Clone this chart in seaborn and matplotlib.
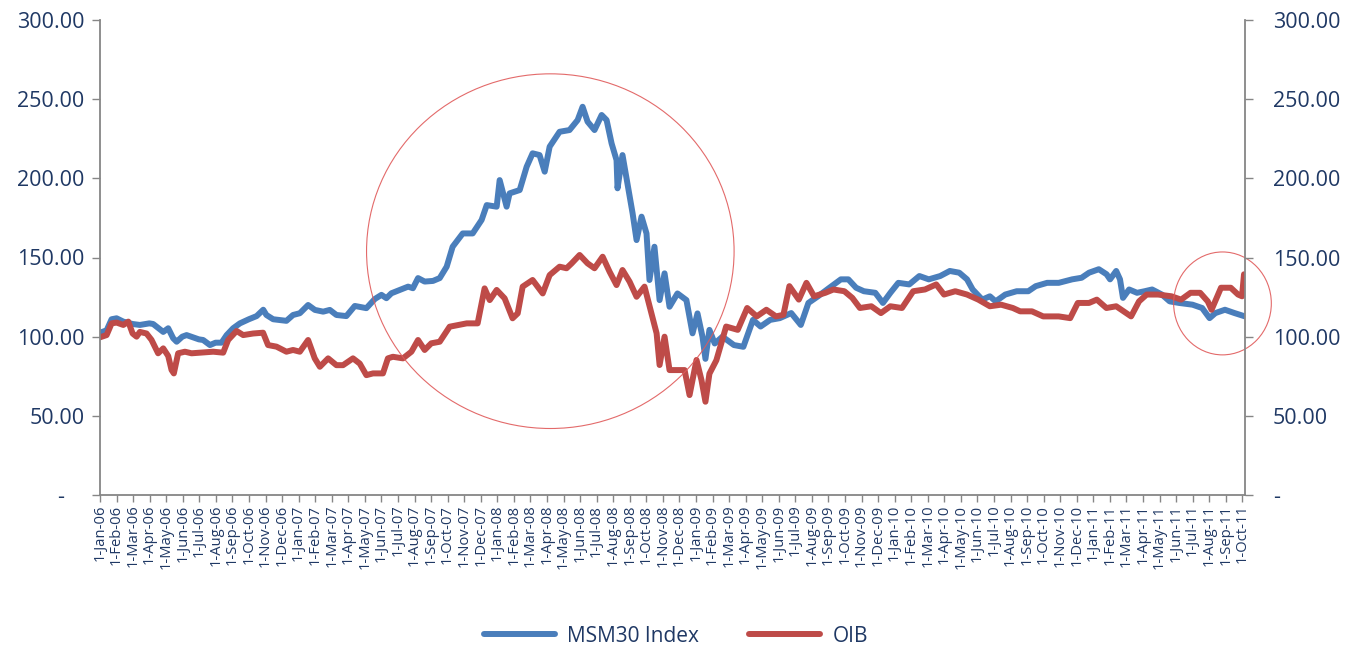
import numpy as np
import pandas as pd
import matplotlib
matplotlib.use("Agg")
import matplotlib.pyplot as plt
import matplotlib.transforms as mtransforms
from matplotlib.patches import Ellipse
from matplotlib.lines import Line2D
import seaborn as sns

# ---- data (x = months since 1-Jan-06) ----
msm30_month = [0.00, 0.40, 0.70, 1.00, 1.41, 1.97, 2.41, 2.98, 3.21, 3.82, 4.12, 4.42, 4.63, 4.97, 5.23,
               5.97, 6.23, 6.64, 6.98, 7.34, 7.65, 8.04, 8.45, 8.99, 9.46, 9.86, 10.05, 10.46, 11.26, 11.66,
               12.07, 12.57, 12.98, 13.48, 13.88, 14.28, 14.88, 15.39, 16.09, 16.60, 17.00, 17.30, 17.60,
               18.11, 18.61, 18.90, 19.21, 19.61, 20.11, 20.52, 20.94, 21.30, 21.91, 22.51, 23.05, 23.36,
               23.96, 24.14, 24.56, 24.74, 25.35, 25.77, 26.13, 26.55, 26.86, 27.16, 27.76, 28.36, 28.85,
               29.15, 29.45, 29.87, 30.30, 30.60, 30.90, 31.20, 31.26, 31.56, 31.86, 32.17, 32.41, 32.71,
               33.01, 33.19, 33.49, 33.80, 34.10, 34.40, 34.88, 35.42, 35.79, 36.09, 36.39, 36.57, 36.81,
               37.13, 37.60, 38.29, 38.86, 39.44, 39.90, 40.48, 41.06, 41.75, 42.33, 42.79, 43.37, 44.06,
               44.75, 45.20, 45.67, 46.14, 46.83, 47.29, 47.74, 48.22, 48.88, 49.49, 50.06, 50.75, 51.33,
               51.90, 52.37, 52.71, 53.29, 53.75, 54.10, 54.68, 55.37, 56.07, 56.52, 57.21, 57.91, 58.72,
               59.29, 59.74, 60.33, 60.80, 61.01, 61.38, 61.61, 61.79, 62.16, 62.64, 63.10, 63.55, 64.14,
               64.61, 65.18, 65.99, 66.57, 67.02, 67.37, 67.95, 68.53, 69.16]
msm30_value = [102.5, 104, 111, 111.6, 109.5, 108, 107.4, 108.4, 108, 103, 105.3, 99, 96.8, 100, 101,
               98.3, 97.9, 94.7, 96.2, 96.2, 101, 105.3, 108.4, 111, 113, 117, 113.7, 111, 110, 113.7,
               114.8, 120, 116.9, 115.8, 116.9, 113.7, 113, 119.4, 118, 123.8, 126.4, 124.3, 127.4,
               129.5, 131.6, 130.6, 137, 134.8, 135.2, 137, 144.2, 156.8, 165.2, 165.2, 173.7, 183.1,
               182.1, 198.9, 182.1, 190.5, 192.6, 207.3, 215.8, 214.7, 204.2, 220, 229.4, 230.5, 236.8,
               245.2, 235.8, 230.5, 240, 236.8, 222.1, 211.5, 193.7, 214.7, 196.8, 177.9, 161, 175.8,
               165.2, 135.8, 156.8, 123.1, 140, 118.9, 127.3, 123.1, 102.1, 114.7, 100, 86, 104.3,
               95.7, 100, 94.7, 93.6, 110.6, 106.4, 110.6, 111.7, 114.9, 107.4, 121.3, 125.5, 130.9,
               136.2, 136.2, 130.9, 128.7, 127.7, 121.3, 127.7, 134, 133, 138.3, 136.2, 138.3, 141.5,
               140.4, 136.2, 129.8, 123.4, 125.5, 122.3, 126.6, 128.7, 128.7, 131.9, 134, 134, 136.2,
               137.2, 140.4, 142.6, 139.4, 136.2, 141.5, 136.2, 124.5, 129.8, 127.7, 128.7, 129.8, 126.6,
               122.3, 121.3, 120.2, 118.1, 111.7, 114.9, 117, 114.9, 112.8]

oib_month = [0.00, 0.40, 0.70, 1.00, 1.41, 1.71, 1.97, 2.21, 2.41, 2.81, 3.11, 3.51, 3.82, 4.12, 4.32,
             4.46, 4.72, 5.13, 5.53, 6.04, 6.84, 7.44, 7.74, 8.25, 8.65, 9.25, 9.85, 10.15, 10.66, 11.26,
             11.66, 12.07, 12.57, 12.97, 13.28, 13.78, 14.28, 14.68, 15.28, 15.69, 16.09, 16.49, 17.09,
             17.39, 17.69, 18.30, 18.81, 19.21, 19.61, 20.01, 20.52, 21.12, 22.15, 22.81, 23.23, 23.54,
             23.96, 24.44, 24.92, 25.23, 25.53, 26.13, 26.74, 27.16, 27.76, 28.18, 28.49, 28.97, 29.45,
             29.87, 30.36, 30.78, 31.20, 31.56, 31.99, 32.41, 32.89, 33.31, 33.62, 33.80, 34.10, 34.40,
             35.00, 35.31, 35.61, 36.03, 36.33, 36.57, 36.81, 37.23, 37.82, 38.52, 39.09, 39.67, 40.25,
             40.83, 41.28, 41.64, 42.21, 42.67, 43.13, 43.81, 44.30, 44.96, 45.44, 45.90, 46.59, 47.17,
             47.74, 48.44, 49.12, 49.83, 50.51, 50.98, 51.66, 52.37, 53.05, 53.75, 54.43, 55.14, 55.58,
             56.29, 56.97, 57.91, 58.60, 59.06, 59.74, 60.21, 60.79, 61.38, 61.83, 62.28, 62.76, 63.22,
             63.91, 64.72, 65.30, 65.87, 66.45, 66.91, 67.14, 67.71, 68.30, 68.74, 68.98, 69.10]
oib_value = [99.6, 101, 108.4, 108.9, 107.4, 109.5, 102, 100, 103, 102, 98, 89.5, 92.6, 87.8, 79,
             76.8, 89.5, 90.5, 89.5, 89.9, 90.5, 89.9, 97.9, 103.6, 101, 102, 102.5, 94.7, 93.7, 90.5,
             91.6, 90.5, 97.9, 86.3, 81, 86.3, 82, 82, 86.3, 83, 75.7, 76.8, 76.8,
             86.3, 87.3, 86.3, 90.5, 97.9, 91.6, 95.8, 96.8, 106.3, 108.4, 108.4, 130.5, 123.1,
             129.5, 124.2, 111.6, 114.7, 131.6, 135.8, 127.3, 138.9, 144.2, 143.2, 146.3, 151.6, 146.3,
             143.2, 150.5, 141, 132.6, 142.1, 134.7, 125.2, 131.6, 114.7, 102.1, 82.1, 100, 78.9,
             78.9, 78.9, 63.1, 85.3, 72.6, 58.9, 76.6, 85.1, 106.4, 104.3, 118.1, 112.8, 117,
             112.8, 113.8, 131.9, 123.4, 134, 125.5, 127.7, 129.8, 128.7, 124.5, 118.1, 119.2, 114.9,
             119.2, 118.1, 128.7, 129.8, 133, 126.6, 128.7, 126.6, 123.4, 119.2, 120.2, 118.1, 116,
             116, 112.8, 112.8, 111.7, 121.3, 121.3, 123.4, 118.1, 119.2, 116, 112.8, 122.3, 126.6,
             126.6, 125.5, 123.4, 127.7, 127.7, 122.3, 117, 130.9, 130.9, 126.6, 125.5, 139.4]

series_names = ["MSM30 Index", "OIB"]
tick_dates = pd.date_range("2006-01-01", "2011-10-01", freq="MS")
tick_labels = [f"{d.day}-{d.strftime('%b-%y')}" for d in tick_dates]
y_ticks = [0, 50, 100, 150, 200, 250, 300]

# annotation ellipses: (center month, center value, width months, height value)
highlight_big = (27.2, 154.0, 22.2, 224.0)
highlight_small = (67.8, 121.0, 5.9, 65.0)

# ---- styling ----
BLUE = "#4A7EBB"
RED = "#BE4B48"
TEXT = "#1F3864"
SPINE = "#868686"

sns.set_theme(style="white")
plt.rcParams["font.family"] = ["Open Sans", "DejaVu Sans"]

df = pd.concat([
    pd.DataFrame({"month": msm30_month, "value": msm30_value, "series": series_names[0]}),
    pd.DataFrame({"month": oib_month, "value": oib_value, "series": series_names[1]}),
])

fig = plt.figure(figsize=(13.52, 6.48), dpi=100)
ax = fig.add_axes([100 / 1352, 1 - 495 / 648, 1145 / 1352, 475 / 648])

sns.lineplot(data=df, x="month", y="value", hue="series", hue_order=series_names,
             palette=[BLUE, RED], linewidth=4.3, estimator=None, sort=False, ax=ax,
             legend=False)
for ln in ax.get_lines():
    ln.set_solid_capstyle("round")
    ln.set_solid_joinstyle("round")

ax.set_xlim(0, max(msm30_month[-1], oib_month[-1]))
ax.set_ylim(0, 300)
ax.set_xlabel("")
ax.set_ylabel("")

def fmt(v):
    return "-" if v == 0 else f"{v:.2f}"

YFS = 15.5
ax.set_yticks(y_ticks)
ax.set_yticklabels([fmt(v) for v in y_ticks], fontsize=YFS, color=TEXT)
ax.set_xticks(np.arange(len(tick_labels)))
ax.set_xticklabels(tick_labels, rotation=90, fontsize=10.6, color=TEXT)

ax.tick_params(axis="y", which="major", direction="out", length=6, width=1, color=SPINE, pad=5,
               left=True)
ax.tick_params(axis="x", which="major", direction="out", length=5, width=1, color=SPINE, pad=2,
               bottom=True)

for side in ["top", "right"]:
    ax.spines[side].set_visible(False)
for side in ["left", "bottom"]:
    ax.spines[side].set_color(SPINE)
    ax.spines[side].set_linewidth(1.3)

# Excel accounting-style dash for zero sits further left
zero_lbl = ax.get_yticklabels()[0]
zero_lbl.set_transform(zero_lbl.get_transform() +
                       mtransforms.ScaledTranslation(-15 / 72, 0, fig.dpi_scale_trans))

ax2 = ax.twinx()
ax2.set_ylim(0, 300)
ax2.set_yticks(y_ticks)
ax2.set_yticklabels([fmt(v) for v in y_ticks], fontsize=YFS, color=TEXT)
ax2.tick_params(axis="y", direction="out", length=6, width=1, color=SPINE, pad=14, right=True)
for side in ["top", "left", "bottom"]:
    ax2.spines[side].set_visible(False)
ax2.spines["right"].set_color(SPINE)
ax2.spines["right"].set_linewidth(1.3)
for lbl in ax2.get_yticklabels():
    lbl.set_horizontalalignment("left")

for (cx, cy, w, h) in [highlight_big, highlight_small]:
    ax.add_patch(Ellipse((cx, cy), w, h, fill=False, edgecolor="#E05A5A", linewidth=0.8,
                         alpha=0.9, clip_on=False, zorder=5))

handles = [Line2D([], [], color=BLUE, linewidth=4.3, solid_capstyle="round"),
           Line2D([], [], color=RED, linewidth=4.3, solid_capstyle="round")]
leg = fig.legend(handles, series_names, loc="center", bbox_to_anchor=(0.5, 1 - 636 / 648),
                 ncol=2, frameon=False, fontsize=15, handlelength=3.4, columnspacing=2.4,
                 handletextpad=0.6)
for t in leg.get_texts():
    t.set_color(TEXT)

fig.savefig("out.png", dpi=100)
